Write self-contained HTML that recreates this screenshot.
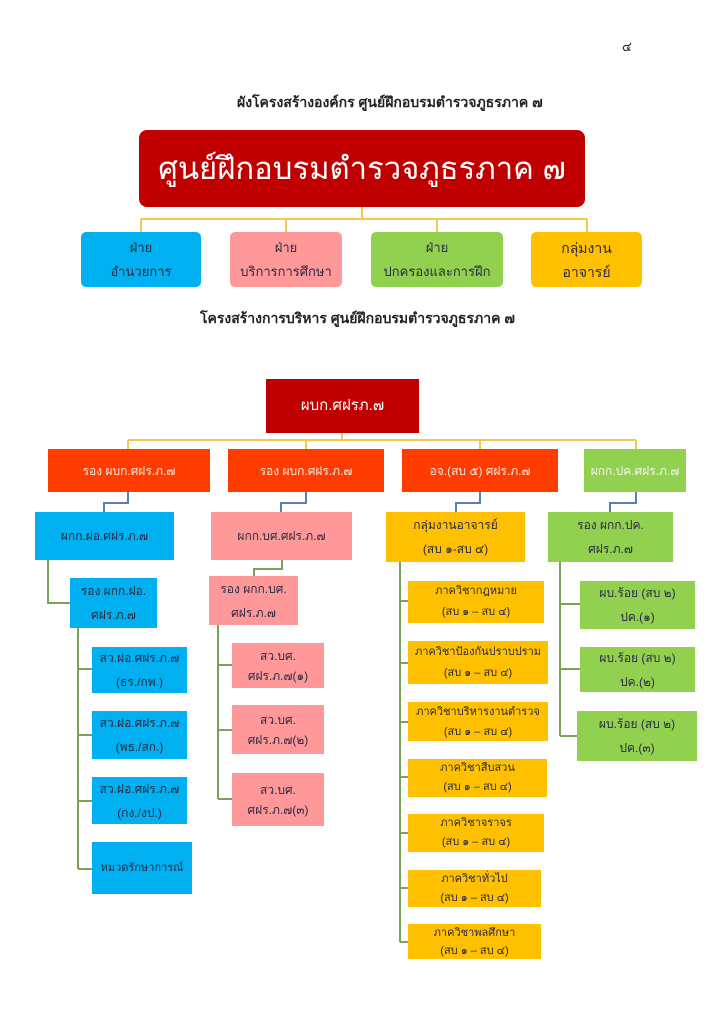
<!DOCTYPE html>
<html><head><meta charset="utf-8">
<style>
body{margin:0;background:#fff;}
#p{position:relative;width:724px;height:1024px;overflow:hidden;font-family:"Liberation Sans","DejaVu Sans",sans-serif;}
.b{position:absolute;display:flex;align-items:center;justify-content:center;text-align:center;box-sizing:border-box;font-size:12px;line-height:24px;color:#2b2b45;white-space:nowrap;}
.t{position:absolute;font-size:14px;color:#222;white-space:nowrap;}
svg{position:absolute;left:0;top:0;}
</style></head><body><div id="p">
<svg width="724" height="1024" fill="none">
<g stroke="#f2c94c" stroke-width="2">
<path d="M362 207V219M141 219H587M141 219V232M286 219V232M437 219V232M587 219V232"/>
<path d="M342 433V440M128 440H636M128 440V449M306 440V449M480 440V449M636 440V449"/>
</g>
<g stroke="#5a7fb5" stroke-width="2">
<path d="M128 492V503H104V512M306 492V503H281V512M480 492V503H456V512M636 492V503H610V512"/>
</g>
<g stroke="#7aa35a" stroke-width="2">
<path d="M48 560V603H70"/>
<path d="M282 560V569H254V576"/>
<path d="M78 628V869M78 669H92M78 735H92M78 801H92M78 869H92"/>
<path d="M218 625V799M218 665H232M218 730H232M218 799H232"/>
<path d="M400 562V942M400 601H408M400 663H408M400 722H408M400 777H408M400 833H408M400 888H408M400 942H408"/>
<path d="M560 562V736M560 604H580M560 669H580M560 736H578"/>
</g>
</svg>
<div class="t" style="left:622px;top:36px;font-size:13px">๔</div>
<div class="t" style="left:237px;top:92px;font-size:14px;font-weight:bold">ผังโครงสร้างองค์กร ศูนย์ฝึกอบรมตำรวจภูธรภาค ๗</div>
<div class="b" style="left:139px;top:130px;width:446px;height:77px;background:#c00000;border-radius:8px;color:#fff;font-size:31px;line-height:44px">ศูนย์ฝึกอบรมตำรวจภูธรภาค ๗</div>
<div class="b" style="left:81px;top:232px;width:120px;height:55px;background:#00b0f0;border-radius:5px;font-size:13px;line-height:24px">ฝ่าย<br>อำนวยการ</div>
<div class="b" style="left:230px;top:232px;width:112px;height:55px;background:#ff9999;border-radius:5px;font-size:13px;line-height:24px">ฝ่าย<br>บริการการศึกษา</div>
<div class="b" style="left:371px;top:232px;width:132px;height:55px;background:#92d050;border-radius:5px;font-size:13px;line-height:24px">ฝ่าย<br>ปกครองและการฝึก</div>
<div class="b" style="left:531px;top:232px;width:111px;height:55px;background:#ffc000;border-radius:5px;font-size:14px;line-height:24px">กลุ่มงาน<br>อาจารย์</div>
<div class="t" style="left:200px;top:308px;font-size:14px;font-weight:bold">โครงสร้างการบริหาร ศูนย์ฝึกอบรมตำรวจภูธรภาค ๗</div>

<div class="b" style="left:266px;top:379px;width:153px;height:54px;background:#c00000;color:#fff;font-size:15px">ผบก.ศฝรภ.๗</div>
<div class="b" style="left:48px;top:449px;width:162px;height:43px;background:#fe3c00;color:#f4e6e0">รอง ผบก.ศฝร.ภ.๗</div>
<div class="b" style="left:228px;top:449px;width:156px;height:43px;background:#fe3c00;color:#f4e6e0">รอง ผบก.ศฝร.ภ.๗</div>
<div class="b" style="left:402px;top:449px;width:156px;height:43px;background:#fe3c00;color:#f4e6e0">อจ.(สบ ๕) ศฝร.ภ.๗</div>
<div class="b" style="left:584px;top:449px;width:102px;height:43px;background:#92d050;color:#f4f4f0">ผกก.ปค.ศฝร.ภ.๗</div>

<div class="b" style="left:35px;top:512px;width:139px;height:48px;background:#00b0f0">ผกก.ฝอ.ศฝร.ภ.๗</div>
<div class="b" style="left:211px;top:512px;width:141px;height:48px;background:#ff9999">ผกก.บศ.ศฝร.ภ.๗</div>
<div class="b" style="left:386px;top:512px;width:139px;height:50px;background:#ffc000">กลุ่มงานอาจารย์<br>(สบ ๑-สบ ๔)</div>
<div class="b" style="left:548px;top:512px;width:125px;height:50px;background:#92d050">รอง ผกก.ปค.<br>ศฝร.ภ.๗</div>

<div class="b" style="left:70px;top:578px;width:87px;height:50px;background:#00b0f0">รอง ผกก.ฝอ.<br>ศฝร.ภ.๗</div>
<div class="b" style="left:92px;top:647px;width:95px;height:46px;background:#00b0f0">สว.ฝอ.ศฝร.ภ.๗<br>(ธร./กพ.)</div>
<div class="b" style="left:92px;top:711px;width:95px;height:48px;background:#00b0f0">สว.ฝอ.ศฝร.ภ.๗<br>(พธ./สก.)</div>
<div class="b" style="left:92px;top:777px;width:95px;height:47px;background:#00b0f0">สว.ฝอ.ศฝร.ภ.๗<br>(กง./งป.)</div>
<div class="b" style="left:92px;top:842px;width:100px;height:52px;background:#00b0f0;font-size:11px;padding:0 2px">หมวดรักษาการณ์</div>

<div class="b" style="left:209px;top:576px;width:89px;height:49px;background:#ff9999">รอง ผกก.บศ.<br>ศฝร.ภ.๗</div>
<div class="b" style="left:232px;top:643px;width:92px;height:45px;background:#ff9999;line-height:20px">สว.บศ.<br>ศฝร.ภ.๗(๑)</div>
<div class="b" style="left:232px;top:705px;width:92px;height:49px;background:#ff9999;line-height:20px">สว.บศ.<br>ศฝร.ภ.๗(๒)</div>
<div class="b" style="left:232px;top:773px;width:92px;height:53px;background:#ff9999;line-height:20px">สว.บศ.<br>ศฝร.ภ.๗(๓)</div>

<div class="b" style="left:408px;top:581px;width:136px;height:42px;background:#ffc000;font-size:11px;line-height:21px">ภาควิชากฎหมาย<br>(สบ ๑ – สบ ๔)</div>
<div class="b" style="left:408px;top:641px;width:140px;height:43px;background:#ffc000;font-size:11px;line-height:21px">ภาควิชาป้องกันปราบปราม<br>(สบ ๑ – สบ ๔)</div>
<div class="b" style="left:408px;top:702px;width:140px;height:39px;background:#ffc000;font-size:11px;line-height:20px">ภาควิชาบริหารงานตำรวจ<br>(สบ ๑ – สบ ๔)</div>
<div class="b" style="left:408px;top:759px;width:139px;height:38px;background:#ffc000;font-size:11px;line-height:19px">ภาควิชาสืบสวน<br>(สบ ๑ – สบ ๔)</div>
<div class="b" style="left:408px;top:814px;width:136px;height:38px;background:#ffc000;font-size:11px;line-height:19px">ภาควิชาจราจร<br>(สบ ๑ – สบ ๔)</div>
<div class="b" style="left:408px;top:870px;width:133px;height:37px;background:#ffc000;font-size:11px;line-height:19px">ภาควิชาทั่วไป<br>(สบ ๑ – สบ ๔)</div>
<div class="b" style="left:408px;top:924px;width:133px;height:35px;background:#ffc000;font-size:11px;line-height:18px">ภาควิชาพลศึกษา<br>(สบ ๑ – สบ ๔)</div>

<div class="b" style="left:580px;top:581px;width:115px;height:48px;background:#92d050">ผบ.ร้อย (สบ ๒)<br>ปค.(๑)</div>
<div class="b" style="left:580px;top:647px;width:115px;height:45px;background:#92d050">ผบ.ร้อย (สบ ๒)<br>ปค.(๒)</div>
<div class="b" style="left:577px;top:711px;width:120px;height:50px;background:#92d050">ผบ.ร้อย (สบ ๒)<br>ปค.(๓)</div>
</div></body></html>
